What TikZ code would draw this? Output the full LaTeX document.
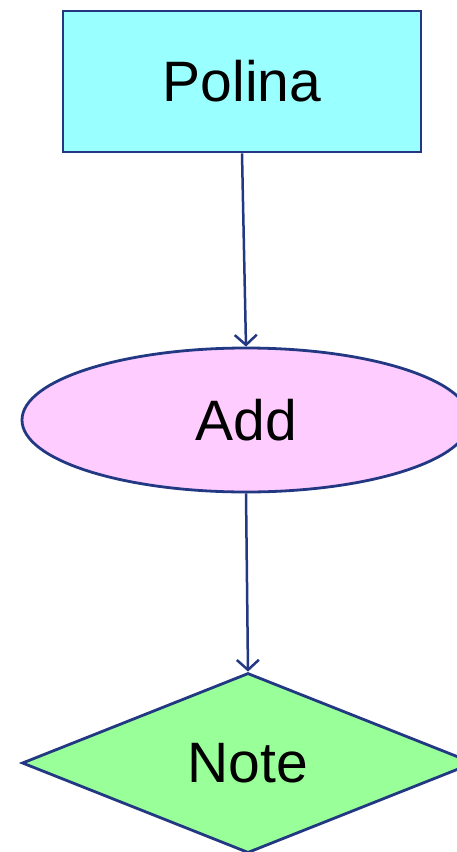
\documentclass[tikz,border=0pt]{standalone}
\usepackage{fontspec}
\setmainfont{Liberation Sans}
\usetikzlibrary{shapes.geometric,arrows.meta}
\definecolor{edgeblue}{RGB}{35,56,130}
\definecolor{boxcyan}{RGB}{153,255,255}
\definecolor{boxpink}{RGB}{255,204,255}
\definecolor{boxgreen}{RGB}{153,255,153}
\tikzset{
  shapebase/.style={draw=edgeblue, line width=2.8pt, inner sep=0pt, font=\fontsize{57}{60}\selectfont, text=black},
  rectbox/.style={shapebase, rectangle, fill=boxcyan, minimum width=358pt, minimum height=141pt},
  ellbox/.style={shapebase, ellipse, fill=boxpink, minimum width=448pt, minimum height=144pt},
  diabox/.style={shapebase, diamond, fill=boxgreen, aspect=2.51, minimum width=452pt, minimum height=180pt},
  conn/.style={draw=edgeblue, line width=2.5pt, -{Straight Barb[length=10pt,width=22pt,line width=2.5pt]}}
}
\begin{document}
\begin{tikzpicture}[x=1pt,y=-1pt]
\useasboundingbox (0,0) rectangle (457,852);
\node[rectbox] (polina) at (242,81.5) {Polina};
\node[ellbox] (add) at (246,420) {Add};
\node[diabox] (note) at (248,763) {Note};
\draw[conn] (polina.south) -- (add.north);
\draw[conn] (add.south) -- (note.north);
\end{tikzpicture}
\end{document}
